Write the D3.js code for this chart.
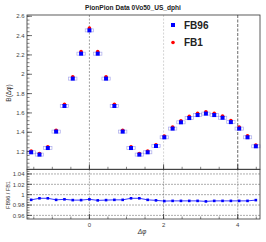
<!DOCTYPE html>
<html>
<head>
<meta charset="utf-8">
<script src="https://cdn.jsdelivr.net/npm/d3@7"></script>
<style>
  body { margin: 0; background: #fff; }
  text { font-family: "Liberation Sans", Arial, sans-serif; }
</style>
</head>
<body>
<div id="chart"></div>
<script>
//Canvas size
var width = 266,
    height = 242;

//Binning of dphi: 28 bins, centers from -pi/2
var nBins = 28;
var binW = 2 * Math.PI / nBins;
var binCenters = d3.range(nBins).map(function(i) { return -Math.PI / 2 + i * binW; });

//Values
var fb96 = [1.193, 1.169, 1.237, 1.407, 1.672, 1.955, 2.213, 2.454, 2.213, 1.955, 1.672, 1.407, 1.237, 1.169,
            1.193, 1.258, 1.348, 1.438, 1.503, 1.547, 1.578, 1.593, 1.578, 1.550, 1.505, 1.438, 1.348, 1.255];
var fb1 = [1.205, 1.180, 1.249, 1.421, 1.689, 1.975, 2.235, 2.478, 2.235, 1.975, 1.689, 1.421, 1.249, 1.180,
           1.205, 1.271, 1.362, 1.453, 1.519, 1.564, 1.596, 1.611, 1.596, 1.567, 1.522, 1.454, 1.364, 1.268];
var ratio = [0.990, 0.993, 0.993, 0.990, 0.991, 0.9895, 0.9895, 0.991, 0.989, 0.9895, 0.990, 0.990, 0.993, 0.993,
             0.990, 0.989, 0.9876, 0.988, 0.988, 0.988, 0.988, 0.987, 0.988, 0.988, 0.988, 0.988, 0.988, 0.9895];

var topTicks = [1.2, 1.4, 1.6, 1.8, 2, 2.2, 2.4, 2.6];
var botTicks = [0.96, 0.98, 1, 1.02, 1.04];
var xTicks = [0, 2, 4];
var legendNames = ["FB96", "FB1"];
var legendColors = ["#0000ff", "#ff0000"];
var title = "PionPion Data 0Vo50_US_dphi";

//Panel frame
var left = 27, right = 260, topY = 15, midY = 169.3, botY = 219;

var x = d3.scaleLinear().domain([-Math.PI / 2 - binW / 2, 3 * Math.PI / 2 - binW / 2]).range([left, right]);
var yTop = d3.scaleLinear().domain([1.017, 2.613]).range([midY, topY]);
var yBot = d3.scaleLinear().domain([0.953, 1.049]).range([botY, midY]);

var svg = d3.select("#chart")
            .append("svg")
            .attr("width", width)
            .attr("height", height);

svg.append("rect").attr("width", width).attr("height", height).attr("fill", "#fff");

//Title
svg.append("text")
   .attr("x", 133).attr("y", 10)
   .attr("text-anchor", "middle")
   .attr("font-size", "6.6px")
   .attr("font-weight", "bold")
   .attr("fill", "#222")
   .text(title);

//Vertical reference lines in the upper panel
var vStyles = [
  {v: 0, color: "#888", dash: "2,1.5"},
  {v: 2, color: "#ccc", dash: "2,1.5"},
  {v: 4, color: "#444", dash: "3,1.5"}
];
svg.selectAll(".vline")
   .data(vStyles)
   .enter()
   .append("line")
   .attr("x1", function(d) { return x(d.v); })
   .attr("x2", function(d) { return x(d.v); })
   .attr("y1", topY).attr("y2", midY)
   .attr("stroke", function(d) { return d.color; })
   .attr("stroke-dasharray", function(d) { return d.dash; })
   .attr("stroke-width", 0.8);

//Grid in the lower panel
svg.selectAll(".hgrid")
   .data(botTicks)
   .enter()
   .append("line")
   .attr("x1", left).attr("x2", right)
   .attr("y1", function(d) { return yBot(d); })
   .attr("y2", function(d) { return yBot(d); })
   .attr("stroke", "#777")
   .attr("stroke-dasharray", "2,1")
   .attr("stroke-width", 0.6);
svg.selectAll(".vgrid")
   .data(xTicks)
   .enter()
   .append("line")
   .attr("x1", function(d) { return x(d); })
   .attr("x2", function(d) { return x(d); })
   .attr("y1", midY).attr("y2", botY)
   .attr("stroke", "#777")
   .attr("stroke-dasharray", "2,1")
   .attr("stroke-width", 0.6);

//Axes with ticks drawn inside the frame
function yAxis(scale, ticks, minorStep, fmt) {
  var g = svg.append("g");
  var dom = scale.domain();
  var minor = d3.range(Math.ceil(dom[0] / minorStep) * minorStep, dom[1], minorStep);
  g.selectAll(".minor").data(minor).enter().append("line")
   .attr("x1", left).attr("x2", left + 2.5)
   .attr("y1", function(d) { return scale(d); }).attr("y2", function(d) { return scale(d); })
   .attr("stroke", "#333").attr("stroke-width", 0.6);
  g.selectAll(".major").data(ticks).enter().append("line")
   .attr("x1", left).attr("x2", left + 5)
   .attr("y1", function(d) { return scale(d); }).attr("y2", function(d) { return scale(d); })
   .attr("stroke", "#333").attr("stroke-width", 0.7);
  g.selectAll(".lab").data(ticks).enter().append("text")
   .attr("x", left - 2.5)
   .attr("y", function(d) { return scale(d) + 2.2; })
   .attr("text-anchor", "end")
   .attr("font-size", "6px")
   .attr("fill", "#444")
   .text(fmt);
}
yAxis(yTop, topTicks, 0.04, function(d) { return d3.format("")(d); });
yAxis(yBot, botTicks, 0.005, function(d) { return d3.format("")(d); });

function xAxisTicks(y0) {
  var minor = d3.range(-1.5, 4.6, 0.5);
  svg.selectAll(null).data(minor).enter().append("line")
     .attr("x1", function(d) { return x(d); }).attr("x2", function(d) { return x(d); })
     .attr("y1", y0).attr("y2", y0 - 2.5)
     .attr("stroke", "#333").attr("stroke-width", 0.6);
  svg.selectAll(null).data(xTicks).enter().append("line")
     .attr("x1", function(d) { return x(d); }).attr("x2", function(d) { return x(d); })
     .attr("y1", y0).attr("y2", y0 - 5)
     .attr("stroke", "#333").attr("stroke-width", 0.8);
}
xAxisTicks(midY);
xAxisTicks(botY);

svg.selectAll(".xlab").data(xTicks).enter().append("text")
   .attr("x", function(d) { return x(d); })
   .attr("y", botY + 8.3)
   .attr("text-anchor", "middle")
   .attr("font-size", "6px")
   .attr("fill", "#444")
   .text(function(d) { return d; });

//Axis titles
svg.append("text")
   .attr("transform", "translate(11,93) rotate(-90)")
   .attr("text-anchor", "middle")
   .attr("font-size", "6.6px")
   .attr("fill", "#333")
   .text("B(Δφ)");
svg.append("text")
   .attr("transform", "translate(10,195) rotate(-90)")
   .attr("text-anchor", "middle")
   .attr("font-size", "5.5px")
   .attr("fill", "#333")
   .text("FB96 / FB1");
svg.append("text")
   .attr("x", 142).attr("y", 234)
   .attr("text-anchor", "middle")
   .attr("font-size", "6.6px")
   .attr("font-style", "italic")
   .attr("fill", "#333")
   .text("Δφ");

//Upper panel points
var pts = binCenters.map(function(c, i) { return {x: c, b: fb96[i], r: fb1[i], q: ratio[i]}; });

var bw = x(binW) - x(0);
svg.selectAll(".errbox").data(pts).enter().append("rect")
   .attr("x", function(d) { return x(d.x) - bw / 2; })
   .attr("y", function(d) { return yTop(d.b) - 1.5; })
   .attr("width", bw).attr("height", 3)
   .attr("fill", "none")
   .attr("stroke", "#6666dd")
   .attr("stroke-opacity", 0.55)
   .attr("stroke-width", 0.7);

svg.selectAll(".fb1").data(pts).enter().append("circle")
   .attr("cx", function(d) { return x(d.x); })
   .attr("cy", function(d) { return yTop(d.r); })
   .attr("r", 1.8)
   .attr("fill", "#ff0000");

svg.selectAll(".fb96").data(pts).enter().append("rect")
   .attr("x", function(d) { return x(d.x) - 2; })
   .attr("y", function(d) { return yTop(d.b) - 2; })
   .attr("width", 4).attr("height", 4)
   .attr("fill", "#0000ff");

//Lower panel ratio
var line = d3.line()
             .x(function(d) { return x(d.x); })
             .y(function(d) { return yBot(d.q); });
svg.append("path")
   .datum(pts)
   .attr("d", line)
   .attr("fill", "none")
   .attr("stroke", "#0000ff")
   .attr("stroke-width", 0.8);
svg.selectAll(".ratio").data(pts).enter().append("rect")
   .attr("x", function(d) { return x(d.x) - 1.3; })
   .attr("y", function(d) { return yBot(d.q) - 1.3; })
   .attr("width", 2.6).attr("height", 2.6)
   .attr("fill", "#0000ff");

//Frames
svg.append("rect")
   .attr("x", left).attr("y", topY)
   .attr("width", right - left).attr("height", midY - topY)
   .attr("fill", "none").attr("stroke", "#333").attr("stroke-width", 0.8);
svg.append("rect")
   .attr("x", left).attr("y", midY)
   .attr("width", right - left).attr("height", botY - midY)
   .attr("fill", "none").attr("stroke", "#333").attr("stroke-width", 0.8);

//Legend
var legend = svg.selectAll(".legend").data(legendNames).enter().append("g")
                .attr("transform", function(d, i) { return "translate(173," + (25 + i * 17.5) + ")"; });
legend.append("rect")
      .filter(function(d, i) { return i === 0; })
      .attr("x", -2).attr("y", -2).attr("width", 4).attr("height", 4)
      .attr("fill", legendColors[0]);
legend.append("circle")
      .filter(function(d, i) { return i === 1; })
      .attr("r", 1.8)
      .attr("fill", legendColors[1]);
legend.append("text")
      .attr("x", 11).attr("y", 3.8)
      .attr("font-size", "10px")
      .attr("font-weight", "bold")
      .attr("fill", "#222")
      .text(function(d) { return d; });
</script>
</body>
</html>
